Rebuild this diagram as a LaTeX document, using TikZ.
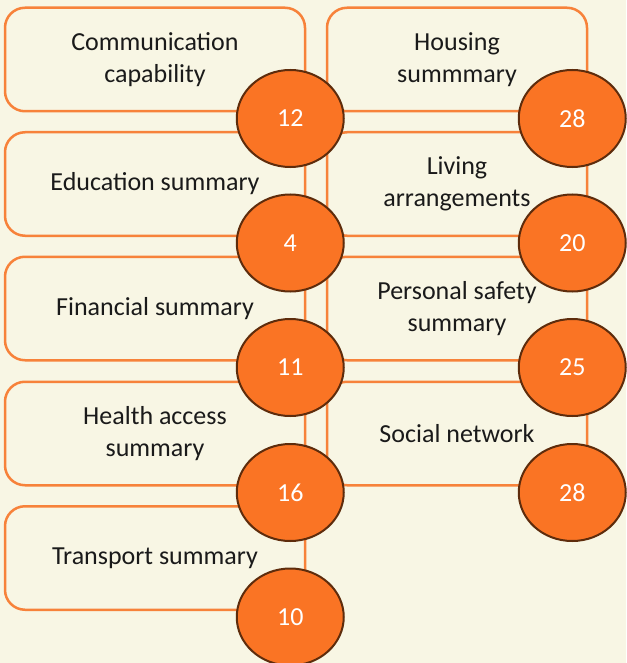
\documentclass[tikz,border=0pt]{standalone}
\usepackage{fontspec}
\setmainfont{Carlito}
\usetikzlibrary{shapes.geometric,positioning}
\definecolor{bgcream}{HTML}{F8F6E4}
\definecolor{boxorange}{HTML}{F7823A}
\definecolor{dotorange}{HTML}{FA7424}
\definecolor{dotbrown}{HTML}{5E2C0C}
\definecolor{labelink}{HTML}{1A1A1A}
\tikzset{
  sumbox/.style={draw=boxorange, line width=2.5pt, rounded corners=20pt,
    fill=bgcream, minimum width=300pt, minimum height=103.5pt, inner sep=0pt,
    align=center, text=labelink, font=\fontsize{26}{32}\selectfont},
  widebox/.style={sumbox, minimum width=260pt},
  countdot/.style={ellipse, draw=dotbrown, line width=2pt, fill=dotorange,
    minimum width=107pt, minimum height=97pt, inner sep=0pt,
    text=white, font=\fontsize{26}{32}\selectfont, xshift=-16pt, yshift=-6pt},
}
\begin{document}
\begin{tikzpicture}[x=1pt,y=-1pt]
\useasboundingbox (0,0) rectangle (626,663);
\fill[bgcream] (0,0) rectangle (626,663);
% Left column of boxes
\node[sumbox] (comm) at (155,59.5) {Communication\\capability};
\node[sumbox] (edu) at (155,184) {Education summary};
\node[sumbox] (fin) at (155,308.5) {Financial summary};
\node[sumbox] (health) at (155,433.5) {Health access\\summary};
\node[sumbox] (trans) at (155,558) {Transport summary};
% Right column of boxes
\node[widebox] (house) at (457,59.5) {Housing\\summmary};
\node[widebox] (living) at (457,184) {Living\\arrangements};
\node[widebox] (safety) at (457,308.5) {Personal safety\\summary};
\node[widebox] (social) at (457,433.5) {Social network};
% Counts on the box corners
\node[countdot] (ncomm) at (comm.south east) {12};
\node[countdot] (nedu) at (edu.south east) {4};
\node[countdot] (nfin) at (fin.south east) {11};
\node[countdot] (nhealth) at (health.south east) {16};
\node[countdot] (ntrans) at (trans.south east) {10};
\node[countdot] (nhouse) at (house.south east) {28};
\node[countdot] (nliving) at (living.south east) {20};
\node[countdot] (nsafety) at (safety.south east) {25};
\node[countdot] (nsocial) at (social.south east) {28};
\end{tikzpicture}
\end{document}
